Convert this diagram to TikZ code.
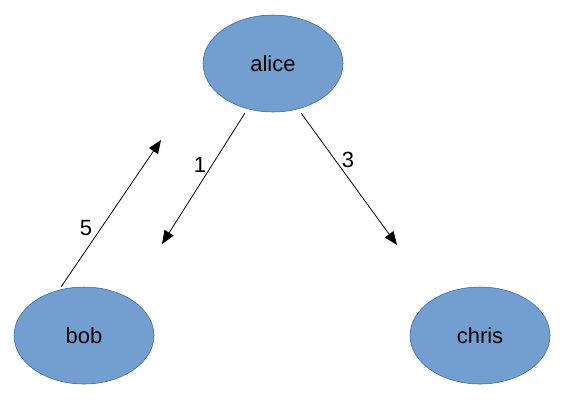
\documentclass[tikz,border=0pt]{standalone}
\usepackage{fontspec}
\setmainfont{Liberation Sans}
\usetikzlibrary{shapes.geometric,arrows.meta}
\definecolor{nodefill}{HTML}{729FCF}
\definecolor{nodeline}{HTML}{3465A4}

\begin{document}
\begin{tikzpicture}[x=0.75pt,y=-0.75pt,font=\fontsize{16.5}{19}\selectfont,
  person/.style={ellipse,draw=nodeline,fill=nodefill,minimum width=105pt,minimum height=72.75pt,inner sep=0pt},
  msg/.style={-{Triangle[length=10pt,width=8pt]},black,line width=0.6pt}]

\useasboundingbox (0,0) rectangle (566,401);

\path (273,63.5) node[person] (alice) {alice};
\path (84,335.5) node[person] (bob) {bob};
\path (480,335.5) node[person] (chris) {chris};

\path (245,113) coordinate (m1s);
\path (162,244) coordinate (m1e);
\path (301,113) coordinate (m3s);
\path (397,245) coordinate (m3e);
\path (61,287) coordinate (m5s);
\path (161,140) coordinate (m5e);

\draw [msg] (m1s)--(m1e);
\draw [msg] (m3s)--(m3e);
\draw [msg] (m5s)--(m5e);

\path (200,165) node (l1) {1};
\path (348,160) node (l3) {3};
\path (86,228) node (l5) {5};

\end{tikzpicture}
\end{document}
